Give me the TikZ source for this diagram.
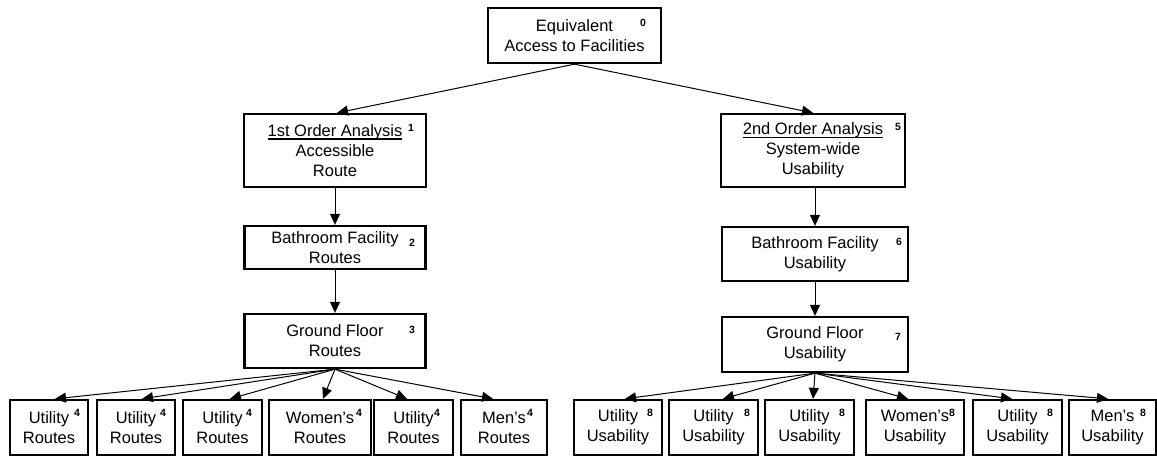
\documentclass[tikz,border=0pt]{standalone}
\usepackage{fontspec}
\setmainfont{Liberation Sans}
\usetikzlibrary{arrows.meta}
% thick underline for the analysis headings
\newcommand{\headline}[1]{\setbox0\hbox{#1}\leavevmode\rlap{\rule[-3.5pt]{\wd0}{1.5pt}}\box0}
\tikzset{
  box/.style={draw, line width=2.3pt, inner sep=0pt, align=center,
    font=\fontsize{16.5}{20}\selectfont},
  num/.style={inner sep=0pt, font=\fontsize{10.5}{12}\selectfont\bfseries},
  arr/.style={line width=1pt, -{Triangle[length=11pt,width=10pt]}}
}
\begin{document}
\begin{tikzpicture}[x=1pt,y=-1pt]
\useasboundingbox (0,0) rectangle (1157,458);

% root
\node[box, minimum width=173pt, minimum height=55pt] (root) at (574.5,35.5) {Equivalent\\Access to Facilities};
\node[num] (n0) at (643,23) {0};

% first order branch
\node[box, minimum width=182pt, minimum height=73pt] (a1) at (335,150.5) {\headline{1st Order Analysis}\\Accessible\\Route};
\node[box, minimum width=181pt, minimum height=43pt] (a2) at (335,247.5) {Bathroom Facility\\Routes};
\node[box, minimum width=181pt, minimum height=54pt] (a3) at (335,341) {Ground Floor\\Routes};
\node[num] (n1) at (411,128) {1};
\node[num] (n2) at (412,243) {2};
\node[num] (n3) at (412,330) {3};

% second order branch
\node[box, minimum width=184pt, minimum height=73pt] (b1) at (813,150.5) {\headline{2nd Order Analysis}\\System-wide\\Usability};
\node[box, minimum width=186pt, minimum height=54pt] (b2) at (815,254) {Bathroom Facility\\Usability};
\node[box, minimum width=186pt, minimum height=55pt] (b3) at (815,344.5) {Ground Floor\\Usability};
\node[num] (n5) at (898,127) {5};
\node[num] (n6) at (899,242) {6};
\node[num] (n7) at (898,337) {7};

% route leaves
\node[box, minimum width=78pt,  minimum height=55pt] (la) at (49,427.5)    {Utility\\Routes};
\node[box, minimum width=78pt,  minimum height=55pt] (lb) at (136,427.5)   {Utility\\Routes};
\node[box, minimum width=79pt,  minimum height=55pt] (lc) at (222.5,427.5) {Utility\\Routes};
\node[box, minimum width=102pt, minimum height=55pt] (ld) at (320,427.5)   {Women’s\\Routes};
\node[box, minimum width=79pt,  minimum height=55pt] (le) at (413.5,427.5) {Utility\\Routes};
\node[box, minimum width=86pt,  minimum height=55pt] (lf) at (504,427.5)   {Men’s\\Routes};
\node[num] (n4a) at (77,413) {4};
\node[num] (n4b) at (163,413) {4};
\node[num] (n4c) at (249,413) {4};
\node[num] (n4d) at (359,413) {4};
\node[num] (n4e) at (437,413) {4};
\node[num] (n4f) at (530,413) {4};

% usability leaves
\node[box, minimum width=88pt, minimum height=55pt] (ra) at (618,427.5)    {Utility\\Usability};
\node[box, minimum width=89pt, minimum height=55pt] (rb) at (713.5,427.5)  {Utility\\Usability};
\node[box, minimum width=89pt, minimum height=55pt] (rc) at (809.5,427.5)  {Utility\\Usability};
\node[box, minimum width=98pt, minimum height=55pt] (rd) at (915,427.5)    {Women’s\\Usability};
\node[box, minimum width=89pt, minimum height=55pt] (re) at (1017.5,427.5) {Utility\\Usability};
\node[box, minimum width=87pt, minimum height=55pt] (rf) at (1112.5,427.5) {Men’s\\Usability};
\node[num] (n8a) at (650,413) {8};
\node[num] (n8b) at (747,413) {8};
\node[num] (n8c) at (842,413) {8};
\node[num] (n8d) at (952,413) {8};
\node[num] (n8e) at (1050,413) {8};
\node[num] (n8f) at (1143,413) {8};

% connectors
\draw[arr] (root.south) -- ([xshift=2pt]a1.north);
\draw[arr] (root.south) -- (b1.north);
\draw[arr] (a1.south) -- (a2.north);
\draw[arr] (a2.south) -- (a3.north);
\draw[arr] (b1.south -| b2.north) -- (b2.north);
\draw[arr] (b2.south) -- (b3.north);

\draw[arr] (a3.south) -- ([xshift=6pt]la.north);
\draw[arr] (a3.south) -- ([xshift=6pt]lb.north);
\draw[arr] (a3.south) -- ([xshift=7.5pt]lc.north);
\draw[arr] (a3.south) -- ([xshift=3pt]ld.north);
\draw[arr] (a3.south) -- ([xshift=-6.5pt]le.north);
\draw[arr] (a3.south) -- ([xshift=-11pt]lf.north);

\draw[arr] (b3.south) -- ([xshift=7pt]ra.north);
\draw[arr] (b3.south) -- ([xshift=9.5pt]rb.north);
\draw[arr] (b3.south) -- ([xshift=3.5pt]rc.north);
\draw[arr] (b3.south) -- ([xshift=-7pt]rd.north);
\draw[arr] (b3.south) -- ([xshift=-5.5pt]re.north);
\draw[arr] (b3.south) -- ([xshift=-4.5pt]rf.north);
\end{tikzpicture}
\end{document}
